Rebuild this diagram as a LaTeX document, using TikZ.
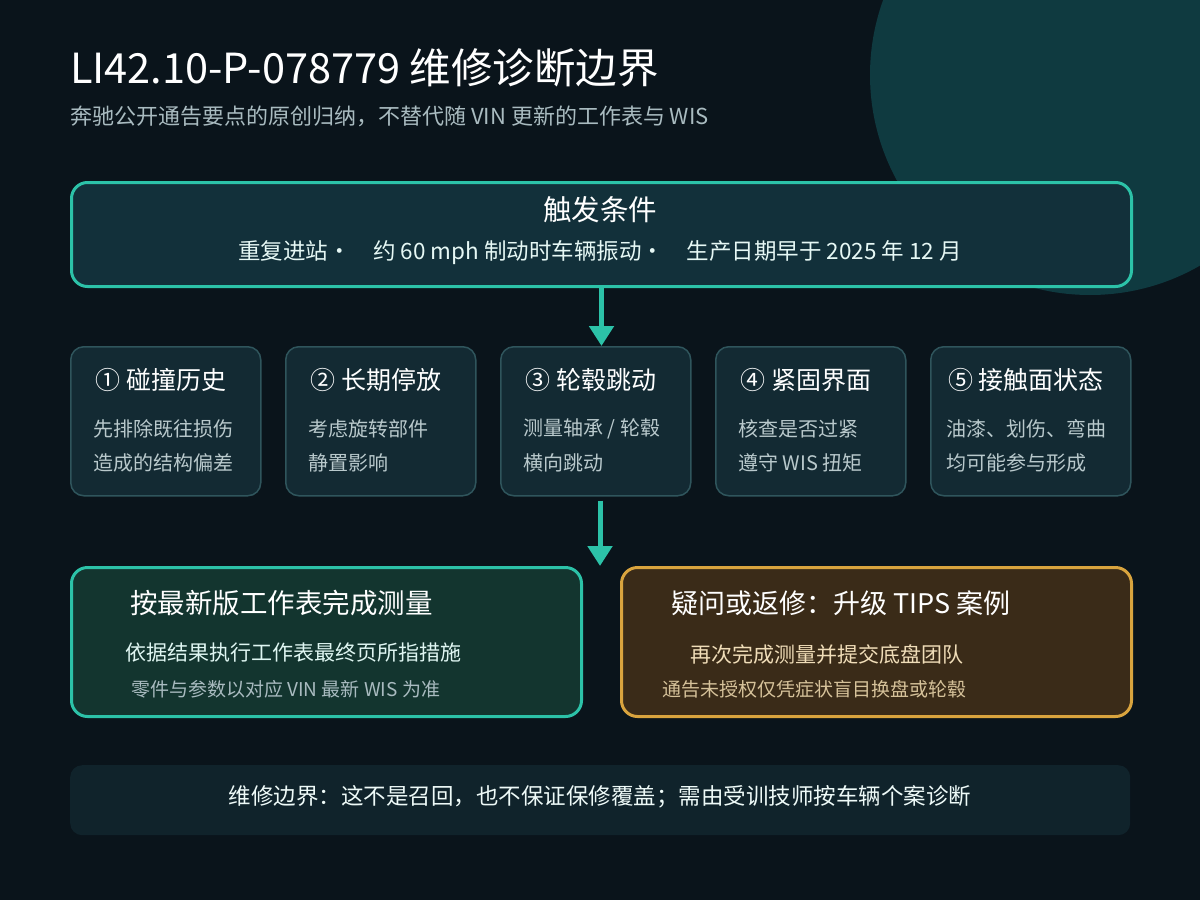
\documentclass[tikz,border=0pt]{standalone}
\usepackage{fontspec}
\setmainfont{Noto Sans CJK SC}
\usetikzlibrary{arrows.meta}
\definecolor{bgdark}{HTML}{0A141B}
\definecolor{blob}{HTML}{0F3A40}
\definecolor{teal}{HTML}{2CC2A8}
\definecolor{trigfill}{HTML}{12303A}
\definecolor{cardfill}{HTML}{132A33}
\definecolor{cardedge}{HTML}{2F555C}
\definecolor{okfill}{HTML}{13352F}
\definecolor{warnfill}{HTML}{3A2B18}
\definecolor{warnedge}{HTML}{D9A43E}
\definecolor{notefill}{HTML}{10232B}
\definecolor{subgray}{HTML}{A9BBC0}
\definecolor{bodygray}{HTML}{B9C9CC}
\definecolor{warntext}{HTML}{F0DDB8}
\definecolor{warnsub}{HTML}{D6C29A}
\newcommand\fsz[1]{\fontsize{#1}{#1}\selectfont}
\tikzset{
  card/.style={draw=cardedge, line width=1.5pt, fill=cardfill, rounded corners=13pt,
    anchor=north west, inner sep=0pt, minimum height=149pt},
  bigbox/.style={line width=3pt, rounded corners=16pt, anchor=north west, inner sep=0pt,
    minimum width=510pt, minimum height=149pt},
  cardtitle/.style={text=white, font=\fsz{25}, inner sep=0pt},
  cardbody/.style={text=bodygray, font=\fsz{20}, anchor=west, inner sep=0pt},
  flow/.style={teal, line width=5pt, -{Triangle[width=24pt,length=20pt]}}
}
\begin{document}
\begin{tikzpicture}[x=1pt,y=-1pt]
  \useasboundingbox[fill=bgdark] (0,0) rectangle (1200,900);
  \fill[blob] (1090,75) circle (220);
  % heading
  \node[anchor=west, inner sep=0pt, text=white, font=\fsz{41.5}] (title) at (70,68) {LI42.10-P-078779 维修诊断边界};
  \node[anchor=west, inner sep=0pt, text=subgray, font=\fsz{22}] (subtitle) at (70,116) {奔驰公开通告要点的原创归纳，不替代随 VIN 更新的工作表与 WIS};
  % trigger
  \node[draw=teal, line width=3pt, fill=trigfill, rounded corners=16pt, anchor=north west,
    inner sep=0pt, minimum width=1060pt, minimum height=104pt] (trig) at (70,181) {};
  \node[text=white, font=\fsz{28.5}, inner sep=0pt] (trigtitle) at (600,210) {触发条件};
  \node[text=white!88!teal, font=\fsz{22.5}, inner sep=0pt] (trigtext) at (600,253) {重复进站·\quad 约 60 mph 制动时车辆振动·\quad 生产日期早于 2025 年 12 月};
  % five checks
  \node[card, minimum width=190pt] (c1) at (70,346) {};
  \node[card, minimum width=190pt] (c2) at (285,346) {};
  \node[card, minimum width=190pt] (c3) at (500,346) {};
  \node[card, minimum width=190pt] (c4) at (715,346) {};
  \node[card, minimum width=200pt] (c5) at (930,346) {};
  \node[cardtitle] (t1) at (161,380) {① 碰撞历史};
  \node[cardtitle] (t2) at (376,380) {② 长期停放};
  \node[cardtitle] (t3) at (591,380) {③ 轮毂跳动};
  \node[cardtitle] (t4) at (806,380) {④ 紧固界面};
  \node[cardtitle] (t5) at (1026,380) {⑤ 接触面状态};
  \node[cardbody] (b1a) at (93,429) {先排除既往损伤};
  \node[cardbody] (b1b) at (93,463) {造成的结构偏差};
  \node[cardbody] (b2a) at (308,429) {考虑旋转部件};
  \node[cardbody] (b2b) at (308,463) {静置影响};
  \node[cardbody] (b3a) at (523,429) {测量轴承 / 轮毂};
  \node[cardbody] (b3b) at (523,463) {横向跳动};
  \node[cardbody] (b4a) at (738,429) {核查是否过紧};
  \node[cardbody] (b4b) at (738,463) {遵守 WIS 扭矩};
  \node[cardbody] (b5a) at (946,429) {油漆、划伤、弯曲};
  \node[cardbody] (b5b) at (946,463) {均可能参与形成};
  % outcomes
  \node[bigbox, draw=teal, fill=okfill] (ok) at (70,566) {};
  \node[bigbox, draw=warnedge, fill=warnfill] (warn) at (620,566) {};
  \node[anchor=west, inner sep=0pt, text=white, font=\fsz{27.5}] (oktitle) at (130,603) {按最新版工作表完成测量};
  \node[anchor=west, inner sep=0pt, text=white!85!teal, font=\fsz{21}] (oka) at (125,653) {依据结果执行工作表最终页所指措施};
  \node[anchor=west, inner sep=0pt, text=subgray, font=\fsz{19}] (okb) at (131,689) {零件与参数以对应 VIN 最新 WIS 为准};
  \node[anchor=west, inner sep=0pt, text=white, font=\fsz{27}] (warntitle) at (671,603) {疑问或返修：升级 TIPS 案例};
  \node[anchor=west, inner sep=0pt, text=warntext, font=\fsz{21}] (warna) at (690,654) {再次完成测量并提交底盘团队};
  \node[anchor=west, inner sep=0pt, text=warnsub, font=\fsz{19}] (warnb) at (662,689) {通告未授权仅凭症状盲目换盘或轮毂};
  % boundary note
  \node[fill=notefill, rounded corners=12pt, anchor=north west, inner sep=0pt,
    minimum width=1060pt, minimum height=70pt] (note) at (70,765) {};
  \node[text=white!92!teal, font=\fsz{22.5}, inner sep=0pt] (notetext) at (600,797) {维修边界：这不是召回，也不保证保修覆盖；需由受训技师按车辆个案诊断};
  % arrows
  \coordinate (split) at (600,566);
  \draw[flow] (trig.south) -- (trig.south |- c3.north);
  \draw[flow] (split |- c3.south) ++(0,4) -- (split);
\end{tikzpicture}
\end{document}
